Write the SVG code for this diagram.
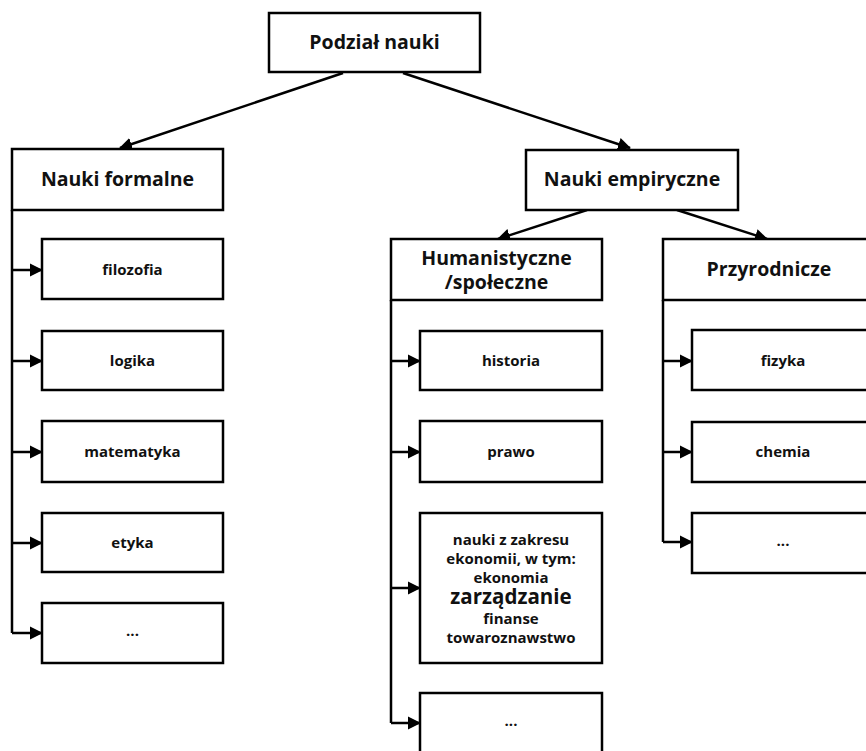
<svg xmlns="http://www.w3.org/2000/svg" width="866" height="751" viewBox="0 0 866 751">
<defs>
<marker id="arr" markerUnits="userSpaceOnUse" markerWidth="14" markerHeight="14" refX="12" refY="7" orient="auto">
<path d="M0,0.5 L13,7 L0,13.5 z" fill="#000"/>
</marker>
<style>
rect{fill:#fff;stroke:#000;stroke-width:2.5}
text{font-family:"Open Sans","Noto Sans","DejaVu Sans",sans-serif;font-weight:bold;fill:#111;text-anchor:middle}
.h{font-size:19.5px}
.s{font-size:15px}
.big{font-size:20.5px}
#connectors path{fill:none;stroke:#000;stroke-width:2.5}
</style>
</defs>
<rect x="0" y="0" width="866" height="751" style="fill:#fff;stroke:none"/>
<g id="connectors">
<path d="M343,73 L120,148" marker-end="url(#arr)"/>
<path d="M403,73 L630,148" marker-end="url(#arr)"/>
<path d="M587,210 L498,239" marker-end="url(#arr)"/>
<path d="M677,210 L767,239" marker-end="url(#arr)"/>
<path d="M12,210 V633"/>
<path d="M12,270 H42" marker-end="url(#arr)"/>
<path d="M12,361 H42" marker-end="url(#arr)"/>
<path d="M12,452 H42" marker-end="url(#arr)"/>
<path d="M12,543 H42" marker-end="url(#arr)"/>
<path d="M12,633 H42" marker-end="url(#arr)"/>
<path d="M391,300 V723"/>
<path d="M391,361 H420" marker-end="url(#arr)"/>
<path d="M391,452 H420" marker-end="url(#arr)"/>
<path d="M391,588 H420" marker-end="url(#arr)"/>
<path d="M391,723 H420" marker-end="url(#arr)"/>
<path d="M663,300 V542"/>
<path d="M663,361 H692" marker-end="url(#arr)"/>
<path d="M663,452 H692" marker-end="url(#arr)"/>
<path d="M663,542 H692" marker-end="url(#arr)"/>
</g>
<g id="podzial"><rect x="269" y="13" width="211" height="59"/><text class="h" x="374.5" y="49">Podział nauki</text></g>
<g id="formalne"><rect x="12" y="149" width="211" height="61"/><text class="h" x="117.5" y="186">Nauki formalne</text></g>
<g id="empiryczne"><rect x="526" y="150" width="212" height="60"/><text class="h" x="632" y="186">Nauki empiryczne</text></g>
<g id="humanistyczne"><rect x="391" y="239" width="211" height="61"/><text class="h" x="496.5" y="265">Humanistyczne</text><text class="h" x="496.5" y="289">/społeczne</text></g>
<g id="przyrodnicze"><rect x="663" y="239" width="212" height="61"/><text class="h" x="769" y="276">Przyrodnicze</text></g>
<g id="filozofia"><rect x="42" y="239" width="181" height="60"/><text class="s" x="132.5" y="275">filozofia</text></g>
<g id="logika"><rect x="42" y="331" width="181" height="59"/><text class="s" x="132.5" y="366">logika</text></g>
<g id="matematyka"><rect x="42" y="421" width="181" height="61"/><text class="s" x="132.5" y="457">matematyka</text></g>
<g id="etyka"><rect x="42" y="513" width="181" height="59"/><text class="s" x="132.5" y="548">etyka</text></g>
<g id="formalne-inne"><rect x="42" y="603" width="181" height="60"/><text class="s" x="132.5" y="636">...</text></g>
<g id="historia"><rect x="420" y="331" width="182" height="59"/><text class="s" x="511" y="366">historia</text></g>
<g id="prawo"><rect x="420" y="421" width="182" height="61"/><text class="s" x="511" y="457">prawo</text></g>
<g id="ekonomia"><rect x="420" y="513" width="182" height="150"/>
<text class="s" x="511" y="545">nauki z zakresu</text>
<text class="s" x="511" y="564">ekonomii, w tym:</text>
<text class="s" x="511" y="583">ekonomia</text>
<text class="big" x="511" y="604">zarządzanie</text>
<text class="s" x="511" y="624">finanse</text>
<text class="s" x="511" y="643">towaroznawstwo</text></g>
<g id="humanist-inne"><rect x="420" y="693" width="182" height="70"/><text class="s" x="511" y="726">...</text></g>
<g id="fizyka"><rect x="692" y="330" width="183" height="60"/><text class="s" x="783" y="366">fizyka</text></g>
<g id="chemia"><rect x="692" y="422" width="183" height="60"/><text class="s" x="783" y="457">chemia</text></g>
<g id="przyr-inne"><rect x="692" y="513" width="183" height="60"/><text class="s" x="783" y="546">...</text></g>
</svg>
